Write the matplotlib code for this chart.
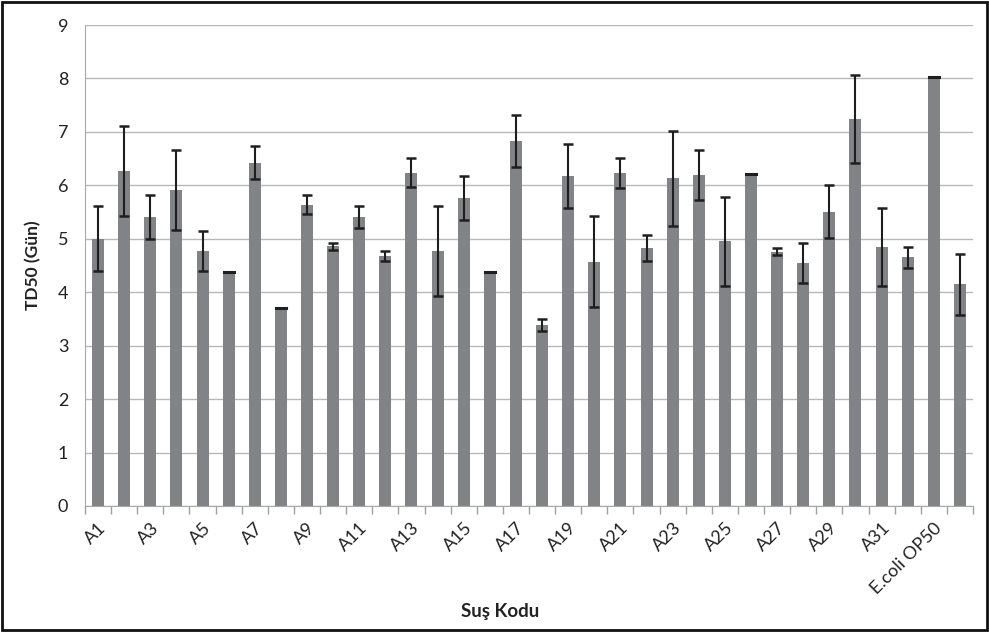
import matplotlib
matplotlib.use("Agg")
import matplotlib.pyplot as plt
import numpy as np
from matplotlib.patches import Rectangle

categories = [f"A{i}" for i in range(1, 33)] + ["E.coli OP50", "K"]
values = [5.00, 6.27, 5.41, 5.91, 4.77, 4.37, 6.42, 3.71, 5.64, 4.86,
          5.41, 4.68, 6.24, 4.77, 5.77, 4.37, 6.83, 3.39, 6.17, 4.57,
          6.23, 4.83, 6.13, 6.19, 4.95, 6.21, 4.76, 4.55, 5.51, 7.24,
          4.85, 4.65, 8.02, 4.15]
errors = [0.61, 0.84, 0.41, 0.75, 0.38, 0.0, 0.31, 0.0, 0.17, 0.07,
          0.20, 0.10, 0.27, 0.84, 0.41, 0.0, 0.48, 0.11, 0.60, 0.85,
          0.28, 0.25, 0.89, 0.47, 0.83, 0.0, 0.07, 0.38, 0.50, 0.83,
          0.73, 0.20, 0.0, 0.57]
tick_labels = categories[0:34:2]

plt.rcParams['font.family'] = ['Lato', 'DejaVu Sans']

fig = plt.figure(figsize=(9.89, 6.32), dpi=100)
ax = fig.add_axes([85/989, 126/632, (973-85)/989, (506-25)/632])

x = np.arange(len(categories))
ax.bar(x, values, width=0.46, color='#828387', zorder=2)
ax.errorbar(x, values, yerr=errors, fmt='none', ecolor='#1e1e1e',
            elinewidth=1.5, capsize=3.6, capthick=1.8, zorder=3)
for xi, v, e in zip(x, values, errors):
    if e == 0.0:
        ax.plot([xi - 0.19, xi + 0.19], [v, v], color='#1e1e1e', lw=2.2, zorder=3)

ax.set_xlim(-0.5, len(categories) - 0.5)
ax.set_ylim(0, 9)
ax.set_yticks(range(0, 10))
ax.yaxis.grid(True, color='#b8b8b8', lw=1.0, zorder=0)
ax.set_axisbelow(True)

ax.set_xticks(x[0:34:2])
ax.set_xticklabels(tick_labels, rotation=45, ha='right', rotation_mode='anchor',
                   fontsize=13, color='#222222')
ax.set_xticks(np.arange(-0.5, len(categories) + 0.5, 1.0), minor=True)
ax.tick_params(axis='x', which='major', length=0, pad=10)
ax.tick_params(axis='x', which='minor', length=6, color='#a0a0a0', width=1)
ax.tick_params(axis='y', length=0, labelsize=13, labelcolor='#222222', pad=12)

for s in ['top', 'right']:
    ax.spines[s].set_visible(False)
ax.spines['left'].set_color('#a8a8a8')
ax.spines['bottom'].set_color('#a8a8a8')

ax.set_ylabel('TD50 (Gün)', fontsize=12.5, fontweight='bold', color='#222222', labelpad=12)
fig.text(500/989, 1 - 612/632, 'Suş Kodu', fontsize=13.5, fontweight='bold',
         color='#222222', ha='center', va='center')

fig.patches.append(Rectangle((0.002, 0.003), 0.996, 0.994, transform=fig.transFigure,
                             fill=False, edgecolor='#111111', lw=2))

fig.savefig('out.png', dpi=100)
